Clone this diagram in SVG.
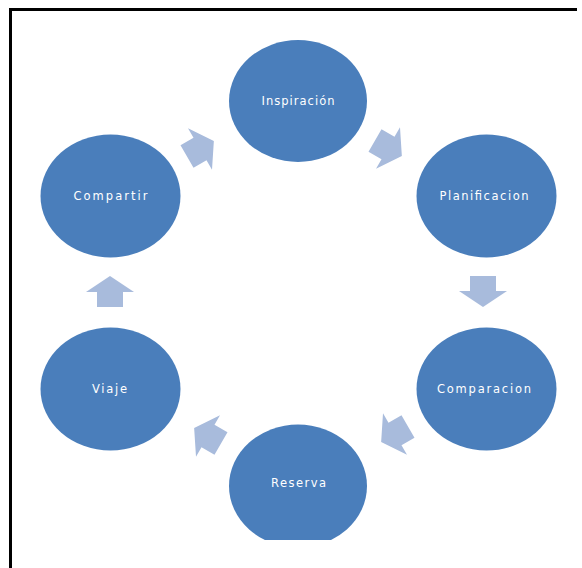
<svg xmlns="http://www.w3.org/2000/svg" width="582" height="568" viewBox="0 0 582 568">
<style>
.node ellipse{fill:#4a7ebb}
.node text{font-family:"DejaVu Sans","Liberation Sans",sans-serif;font-size:11.5px;fill:#ffffff;text-anchor:middle}
.arr{fill:#a8bbdc}
.frame{fill:none;stroke:#000;stroke-width:3}
</style>
<defs>
<polygon id="blk" points="-15,-13 0,-13 0,-24 16,0 0,24 0,13 -15,13"/>
<clipPath id="cut"><rect x="0" y="0" width="582" height="540"/></clipPath>
</defs>
<rect width="582" height="568" fill="#fff"/>
<polyline class="frame" points="10.5,568 10.5,9.5 577,9.5"/>
<g id="connectors" class="arr">
<use href="#blk" transform="translate(200,149) rotate(-30)"/>
<use href="#blk" transform="translate(388,148) rotate(30)"/>
<use href="#blk" transform="translate(483,291) rotate(90)"/>
<use href="#blk" transform="translate(395,434) rotate(150)"/>
<use href="#blk" transform="translate(208,436) rotate(210)"/>
<use href="#blk" transform="translate(110,292) rotate(270)"/>
</g>
<g id="inspiracion" class="node"><ellipse cx="298" cy="101" rx="69" ry="61"/><text x="298" y="105" textLength="73" lengthAdjust="spacing">Inspiración</text></g>
<g id="planificacion" class="node"><ellipse cx="486.5" cy="196" rx="70" ry="61.5"/><text x="484" y="200" textLength="89" lengthAdjust="spacing">Planificacion</text></g>
<g id="comparacion" class="node"><ellipse cx="486.5" cy="389" rx="70" ry="61.5"/><text x="484" y="393" textLength="94" lengthAdjust="spacing">Comparacion</text></g>
<g id="reserva" class="node"><ellipse cx="298" cy="486" rx="69" ry="61.5" clip-path="url(#cut)"/><text x="298.5" y="487" textLength="55" lengthAdjust="spacing">Reserva</text></g>
<g id="viaje" class="node"><ellipse cx="110.5" cy="389" rx="70" ry="61.5"/><text x="109.5" y="393" textLength="35" lengthAdjust="spacing">Viaje</text></g>
<g id="compartir" class="node"><ellipse cx="110.5" cy="196" rx="70" ry="61.5"/><text x="110.5" y="200" textLength="74" lengthAdjust="spacing">Compartir</text></g>
</svg>
